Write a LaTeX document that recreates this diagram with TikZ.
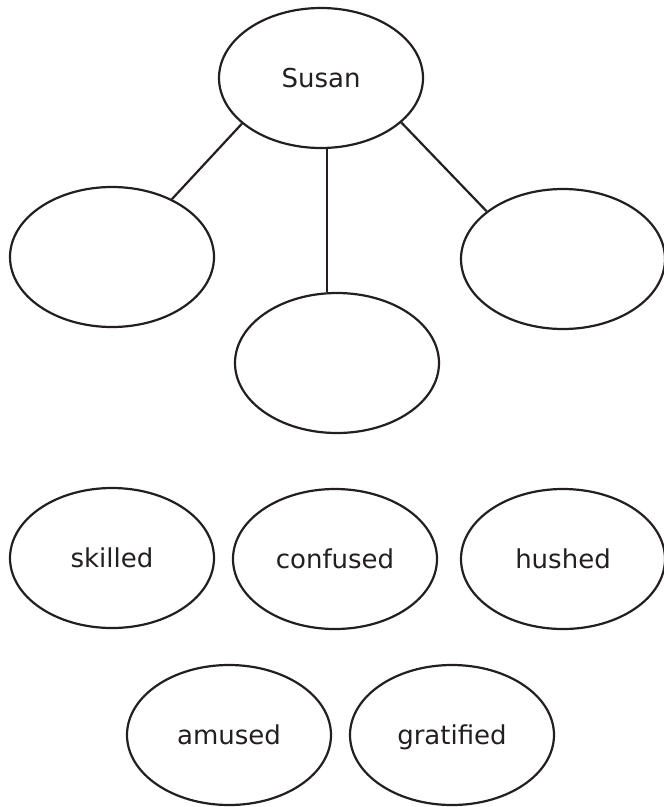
\documentclass[tikz,border=0pt]{standalone}
\usepackage{fontspec}
\setmainfont{DejaVu Sans}
\usetikzlibrary{shapes.geometric}
\definecolor{ink}{RGB}{35,31,32}
\begin{document}
\begin{tikzpicture}[
        x=1pt, y=-1pt,
        bubble/.style={ellipse, draw=ink, line width=2.2pt, text=ink,
            minimum width=204pt, minimum height=140pt, inner sep=0pt,
            text height=19pt, text depth=0pt,
            font=\fontsize{26}{30}\selectfont},
        link/.style={draw=ink, line width=2.2pt}
    ]
        \useasboundingbox (0,0) rectangle (664,807);
        % character web
        \node[bubble] (susan) at (321,78) {Susan};
        \node[bubble] (blankleft) at (112,257) {};
        \node[bubble] (blankmid) at (337,363) {};
        \node[bubble] (blankright) at (563,259) {};
        \draw[link] (susan.210) -- (blankleft.44);
        \draw[link] (susan.275) -- (susan.275 |- blankmid.north);
        \draw[link] (susan.331) -- (blankright.148);
        % word bank
        \node[bubble] (skilled) at (112,558) {skilled};
        \node[bubble] (confused) at (335,559) {confused};
        \node[bubble] (hushed) at (563,559) {hushed};
        \node[bubble] (amused) at (229,735) {amused};
        \node[bubble] (gratified) at (452,735) {gratified};
    \end{tikzpicture}
\end{document}
